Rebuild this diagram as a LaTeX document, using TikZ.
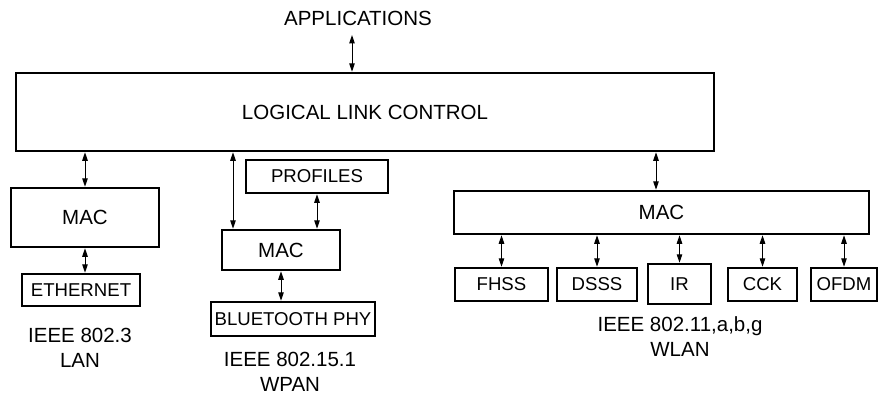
\documentclass[tikz,border=0pt]{standalone}
\usepackage{fontspec}
\setmainfont{Liberation Sans}
\usetikzlibrary{arrows.meta}
\begin{document}
\begin{tikzpicture}[x=1pt,y=-1pt,
  box/.style={draw,line width=2.5pt,inner sep=0pt,font=\fontsize{20.5}{22}\selectfont},
  sbox/.style={draw,line width=2.5pt,inner sep=0pt,font=\fontsize{18.6}{20}\selectfont},
  lbl/.style={inner sep=0pt,align=center,font=\fontsize{20.5}{25}\selectfont},
  arr/.style={line width=1pt,{Triangle[length=8.5pt,width=5.5pt]}-{Triangle[length=8.5pt,width=5.5pt]}}]
\useasboundingbox (0,0) rectangle (882,396);
\node[lbl] (APP) at (358,18) {APPLICATIONS};
\node[box,minimum width=698pt,minimum height=78pt] (LLC) at (365,112) {LOGICAL LINK CONTROL};
\node[box,minimum width=148pt,minimum height=59pt] (MAC1) at (85,217.5) {MAC};
\node[sbox,minimum width=118pt,minimum height=32pt] (ETH) at (81,290) {ETHERNET};
\node[sbox,minimum width=142pt,minimum height=33pt] (PROF) at (317,176.5) {PROFILES};
\node[box,minimum width=118pt,minimum height=40pt] (MAC2) at (281,250) {MAC};
\node[sbox,minimum width=164pt,minimum height=34pt] (BT) at (293,319) {BLUETOOTH PHY};
\node[box,minimum width=415pt,minimum height=43pt] (MAC3) at (661.5,212.5) {MAC};
\node[sbox,minimum width=93pt,minimum height=33pt] (FHSS) at (501.5,284.5) {FHSS};
\node[sbox,minimum width=80pt,minimum height=33pt] (DSSS) at (597,284.5) {DSSS};
\node[sbox,minimum width=63pt,minimum height=40pt] (IR) at (679.5,284) {IR};
\node[sbox,minimum width=69pt,minimum height=33pt] (CCK) at (762.5,284.5) {CCK};
\node[sbox,minimum width=66pt,minimum height=33pt] (OFDM) at (844,284.5) {OFDM};
\node[lbl] (L1) at (80,348) {IEEE 802.3\\LAN};
\node[lbl] (L2) at (290,372) {IEEE 802.15.1\\WPAN};
\node[lbl] (L3) at (680,337) {IEEE 802.11,a,b,g\\WLAN};
\coordinate (ax) at (352,35);
\coordinate (bx) at (233,0);
\coordinate (cx) at (656,0);
\draw[arr] (ax) -- (ax |- LLC.north);
\draw[arr] (MAC1.north |- LLC.south) -- (MAC1.north);
\draw[arr] (MAC1.south) -- (MAC1.south |- ETH.north);
\draw[arr] (LLC.south -| bx) -- (MAC2.north -| bx);
\draw[arr] (PROF.south) -- (PROF.south |- MAC2.north);
\draw[arr] (MAC2.south) -- (MAC2.south |- BT.north);
\draw[arr] (LLC.south -| cx) -- (MAC3.north -| cx);
\foreach \n in {FHSS,DSSS,IR,CCK,OFDM}
  \draw[arr] (\n.north |- MAC3.south) -- (\n.north);
\end{tikzpicture}
\end{document}
